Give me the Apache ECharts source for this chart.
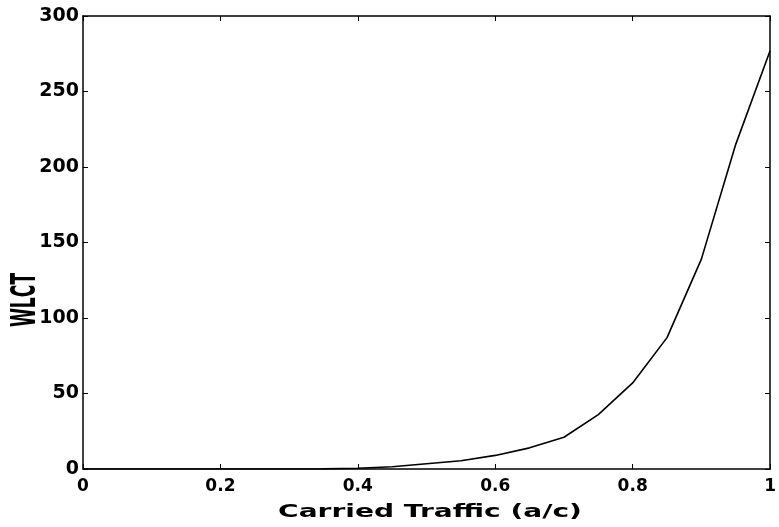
<!DOCTYPE html>
<html>
<head>
<meta charset="utf-8">
<script src="https://cdn.jsdelivr.net/npm/echarts@6/dist/echarts.min.js"></script>
<style>html,body{margin:0;padding:0;background:#fff;}#c{width:779px;height:527px;}</style>
</head>
<body>
<div id="c"></div>
<script>
var xValues = [0, 0.05, 0.1, 0.15, 0.2, 0.25, 0.3, 0.35, 0.4, 0.45, 0.5, 0.55, 0.6, 0.65, 0.7, 0.75, 0.8, 0.85, 0.9, 0.95, 1.0];
var wlct    = [0, 0, 0, 0, 0, 0, 0, 0.1, 0.5, 1.5, 3.5, 5.5, 9, 14, 21, 36, 57, 87, 139, 215, 277];
var xTickLabels = {"0": "0", "0.2": "0.2", "0.4": "0.4", "0.6": "0.6", "0.8": "0.8", "1": "1"};
var xTitle = "Carried Traffic (a/c)";
var yTitle = "WLCT";

var pts = xValues.map(function (x, i) { return [x, wlct[i]]; });
var font = "DejaVu Sans";
var axisLine = {show: true, onZero: false, lineStyle: {color: '#000', width: 1.5}};
var tick = {show: true, inside: true, length: 5, lineStyle: {color: '#000', width: 1}};
var chart = echarts.init(document.getElementById('c'));
chart.setOption({
  animation: false,
  grid: {left: 83, right: 3, top: 16, bottom: 58},
  xAxis: [{
    type: 'value', min: 0, max: 1, interval: 0.2, position: 'bottom',
    axisLine: axisLine, axisTick: tick, splitLine: {show: false},
    axisLabel: {color: '#000', fontFamily: font, fontWeight: 'bold', fontSize: 17, margin: 9,
      formatter: function (v) { var k = String(Math.round(v * 10) / 10); return xTickLabels[k] !== undefined ? xTickLabels[k] : k; }}
  }, {
    type: 'value', min: 0, max: 1, interval: 0.2, position: 'top',
    axisLine: axisLine, axisTick: tick, splitLine: {show: false}, axisLabel: {show: false}
  }],
  yAxis: [{
    type: 'value', min: 0, max: 300, interval: 50, position: 'left',
    axisLine: axisLine, axisTick: tick, splitLine: {show: false},
    axisLabel: {color: '#000', fontFamily: font, fontWeight: 'bold', fontSize: 19, margin: 4}
  }, {
    type: 'value', min: 0, max: 300, interval: 50, position: 'right',
    axisLine: axisLine, axisTick: tick, splitLine: {show: false}, axisLabel: {show: false}
  }],
  graphic: [{
    type: 'text', x: 430, y: 512, scaleX: 1.56,
    style: {text: xTitle, fill: '#000', font: 'bold 18px "DejaVu Sans"', align: 'center', verticalAlign: 'middle'}
  }, {
    type: 'text', x: 26, y: 300, rotation: Math.PI / 2, scaleX: 0.52,
    style: {text: yTitle, fill: '#000', font: 'bold 33px "DejaVu Sans"', align: 'center', verticalAlign: 'middle'}
  }],
  series: [{
    type: 'line', data: pts, xAxisIndex: 0, yAxisIndex: 0,
    showSymbol: false, smooth: false,
    lineStyle: {color: '#000', width: 1.6}
  }]
});
</script>
</body>
</html>
